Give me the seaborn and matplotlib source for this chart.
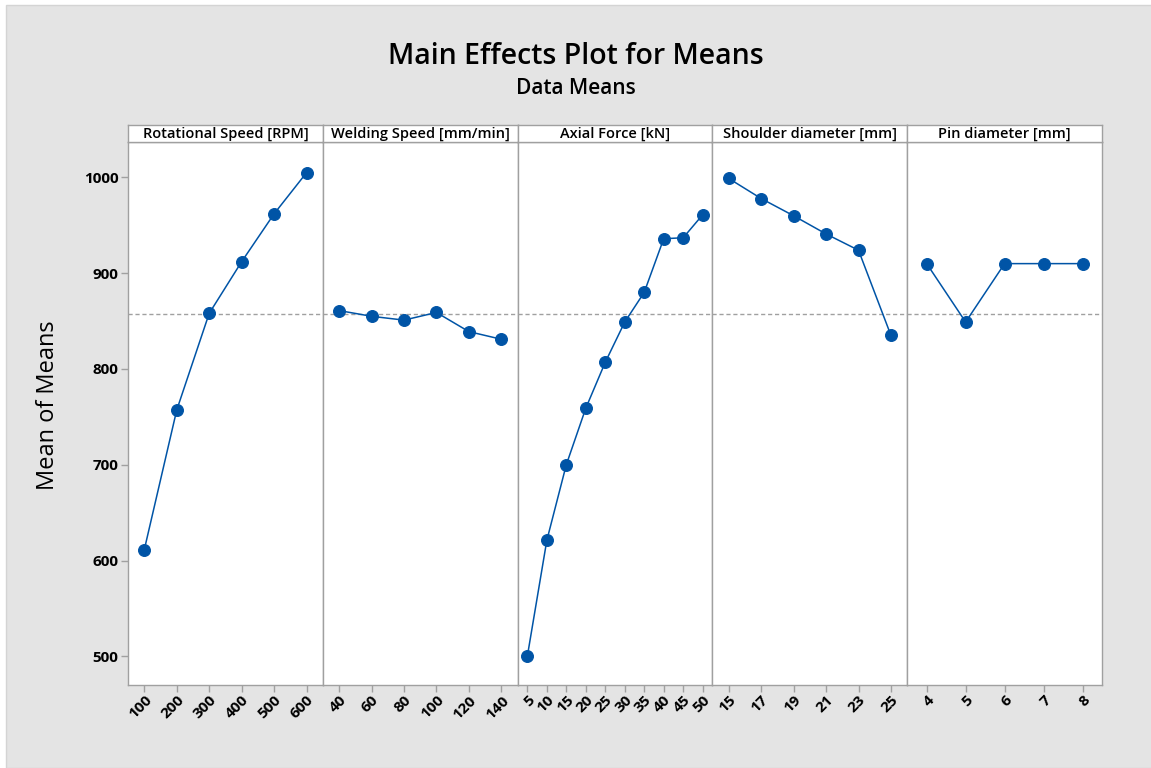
import numpy as np
import pandas as pd
import matplotlib
matplotlib.use("Agg")
import matplotlib.pyplot as plt
from matplotlib.patches import Rectangle
import seaborn as sns

# Factor levels and mean responses for each factor
rot_speed_levels = ["100", "200", "300", "400", "500", "600"]
rot_speed_means = [611, 757, 858, 912, 962, 1005]

weld_speed_levels = ["40", "60", "80", "100", "120", "140"]
weld_speed_means = [861, 855, 851, 859, 839, 831]

axial_force_levels = ["5", "10", "15", "20", "25", "30", "35", "40", "45", "50"]
axial_force_means = [500, 621, 700, 759, 807, 849, 880, 936, 937, 961]

shoulder_levels = ["15", "17", "19", "21", "23", "25"]
shoulder_means = [999, 978, 960, 941, 924, 835]

pin_levels = ["4", "5", "6", "7", "8"]
pin_means = [910, 849, 910, 910, 910]

panel_titles = ["Rotational Speed [RPM]", "Welding Speed [mm/min]", "Axial Force [kN]",
                "Shoulder diameter [mm]", "Pin diameter [mm]"]
grand_mean = 857.7
y_ticks = [500, 600, 700, 800, 900, 1000]

factors = [
    (rot_speed_levels, rot_speed_means),
    (weld_speed_levels, weld_speed_means),
    (axial_force_levels, axial_force_means),
    (shoulder_levels, shoulder_means),
    (pin_levels, pin_means),
]

sns.set_theme(style="white")
plt.rcParams["font.family"] = ["Open Sans", "DejaVu Sans"]
plt.rcParams["text.color"] = "black"
plt.rcParams["xtick.color"] = "black"
plt.rcParams["ytick.color"] = "black"

W, H = 1151, 768
fig = plt.figure(figsize=(W / 100, H / 100), dpi=100)
fig.patch.set_facecolor("white")
bg = Rectangle((6 / W, 0), 1, 1 - 5 / H, transform=fig.transFigure,
               facecolor="#e4e4e4", edgecolor="#d4d4d4", linewidth=1, zorder=-10)
fig.add_artist(bg)

LINE = "#0054a6"
FRAME = "#a0a0a0"

left, right = 128 / W, 1102 / W
bottom, top = 1 - 685 / H, 1 - 142 / H
head_top = 1 - 125 / H
pw = (right - left) / len(factors)

for i, ((levels, means), title) in enumerate(zip(factors, panel_titles)):
    ax = fig.add_axes([left + i * pw, bottom, pw, top - bottom])
    ax.set_facecolor("white")
    df = pd.DataFrame({"level": levels, "mean": means})
    ax.axhline(grand_mean, color="#a0a0a0", linestyle=(0, (3, 2)), linewidth=1.0, zorder=1)
    sns.pointplot(data=df, x="level", y="mean", order=levels, ax=ax, color=LINE,
                  markers="o", linestyles="-", markersize=8.5, linewidth=1.1,
                  errorbar=None, zorder=3)
    ax.set_xlim(-0.5, len(levels) - 0.5)
    ax.set_ylim(470, 1037)
    ax.set_xlabel("")
    ax.set_ylabel("")
    for s in ax.spines.values():
        s.set_color(FRAME)
        s.set_linewidth(1.0)
    ax.tick_params(axis="x", bottom=True, length=5, width=1, color=FRAME,
                   labelcolor="black", labelsize=11, pad=1)
    for lbl in ax.get_xticklabels():
        lbl.set_rotation(45)
        lbl.set_ha("right")
        lbl.set_rotation_mode("anchor")
        lbl.set_fontweight("bold")
    ax.set_yticks(y_ticks)
    if i == 0:
        ax.tick_params(axis="y", left=True, length=5, width=1, color=FRAME,
                       labelcolor="black", labelsize=11, pad=2)
        for lbl in ax.get_yticklabels():
            lbl.set_fontweight("bold")
    else:
        ax.tick_params(axis="y", left=False, labelleft=False)

    # header strip above each panel
    hax = fig.add_axes([left + i * pw, top, pw, head_top - top])
    hax.set_facecolor("white")
    hax.set_xticks([])
    hax.set_yticks([])
    for s in hax.spines.values():
        s.set_color(FRAME)
        s.set_linewidth(1.0)
    hax.text(0.5, 0.45, title, ha="center", va="center", fontsize=10.5,
             fontweight="semibold", transform=hax.transAxes)

fig.text(0.5, 1 - 56 / H, "Main Effects Plot for Means", ha="center", va="center",
         fontsize=20.5, fontweight="semibold")
fig.text(0.5, 1 - 89 / H, "Data Means", ha="center", va="center",
         fontsize=15, fontweight="semibold")
fig.text(48 / W, 1 - 405 / H, "Mean of Means", ha="center", va="center",
         rotation=90, fontsize=17)

fig.savefig("out.png", dpi=100, facecolor=fig.get_facecolor())
